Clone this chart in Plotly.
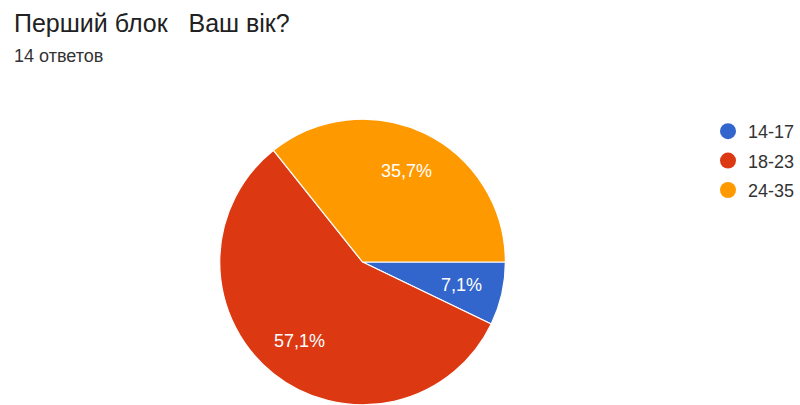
import math
import plotly.graph_objects as go

# Survey answers: age groups and number of respondents
age_groups = ["14-17", "18-23", "24-35"]
respondents = [1, 8, 5]
slice_colors = ["#3366cc", "#dc3912", "#ff9900"]

title_text = "Перший блок\u00a0\u00a0\u00a0Ваш вік?"
subtitle_text = f"{sum(respondents)} ответов"

W, H = 800, 405
LABEL_FONT = "Arial, 'Liberation Sans', sans-serif"

# Pie placement (pixels)
cx, cy, R = 363, 262, 143
start_deg = 90  # first slice begins at 3 o'clock, going clockwise

fig = go.Figure()

fig.add_trace(go.Pie(
    labels=age_groups,
    values=respondents,
    sort=False,
    direction="clockwise",
    rotation=start_deg,
    marker=dict(colors=slice_colors, line=dict(color="white", width=1.2)),
    textinfo="none",
    hoverinfo="label+percent",
    showlegend=False,
    domain=dict(x=[(cx - R) / W, (cx + R) / W], y=[(H - cy - R) / H, (H - cy + R) / H]),
))

# Percentage labels at 70% of the radius, on each slice's mid-angle
total = sum(respondents)
annotations = []
acc = 0
for v in respondents:
    mid = (acc + v / 2) / total * 360.0  # clockwise from 3 o'clock
    acc += v
    ang = math.radians(mid)
    px = cx + 0.71 * R * math.cos(ang)
    py = cy + 0.71 * R * math.sin(ang)
    pct = f"{v / total * 100:.1f}".replace(".", ",") + "%"
    annotations.append(dict(
        text=pct, x=px / W, y=1 - py / H, xref="paper", yref="paper",
        xanchor="center", yanchor="middle", showarrow=False,
        font=dict(family=LABEL_FONT, size=18, color="white"),
    ))

# Legend entries with round markers
for name, col in zip(age_groups, slice_colors):
    fig.add_trace(go.Scatter(
        x=[None], y=[None], mode="markers", name=name,
        legendgroup=name,
        marker=dict(symbol="circle", size=16, color=col),
    ))

annotations += [
    dict(text=title_text, x=12 / W, y=1 - 7 / H, xref="paper", yref="paper",
         xanchor="left", yanchor="top", showarrow=False,
         font=dict(family=LABEL_FONT, size=25, color="#212121")),
    dict(text=subtitle_text, x=12 / W, y=1 - 44 / H, xref="paper", yref="paper",
         xanchor="left", yanchor="top", showarrow=False,
         font=dict(family=LABEL_FONT, size=18, color="#333333")),
]

fig.update_layout(
    width=W, height=H,
    margin=dict(l=0, r=0, t=0, b=0),
    paper_bgcolor="white",
    plot_bgcolor="white",
    xaxis=dict(visible=False),
    yaxis=dict(visible=False),
    legend=dict(
        x=709 / W, y=1 - 113 / H, xanchor="left", yanchor="top",
        font=dict(family=LABEL_FONT, size=18, color="#333333"),
        tracegroupgap=3,
        bgcolor="rgba(0,0,0,0)",
    ),
    annotations=annotations,
)

fig.write_html("out.html")
